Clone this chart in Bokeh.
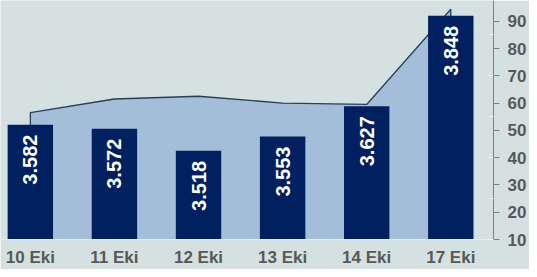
import math
from bokeh.plotting import figure
from bokeh.models import ColumnDataSource, LabelSet, Range1d, FixedTicker
from bokeh.core.properties import value
from bokeh.embed import file_html
from bokeh.resources import INLINE

categories = ["10 Eki", "11 Eki", "12 Eki", "13 Eki", "14 Eki", "17 Eki"]
bar_values = [52.1, 50.6, 42.5, 47.75, 58.85, 92.0]
bar_labels = ["3.582", "3.572", "3.518", "3.553", "3.627", "3.848"]
area_values = [56.5, 61.5, 62.5, 60.0, 59.5, 94.4]
y_ticks = [10, 20, 30, 40, 50, 60, 70, 80, 90]
y_minor_ticks = [10, 25, 40, 55, 70, 85]

BG = "#d5e0e0"
xs = list(range(len(categories)))

p = figure(width=529, height=269, output_backend="svg", toolbar_location=None,
           x_range=Range1d(-0.355, 5.508), y_range=Range1d(10, 97.6),
           y_axis_location="right", min_border_left=0, min_border_top=0,
           min_border_right=0, min_border_bottom=0)
p.background_fill_color = BG
p.border_fill_color = BG
p.outline_line_color = None
p.grid.visible = False

# area (behind bars)
p.varea(x=xs, y1=[y_ticks[0]] * len(xs), y2=area_values, fill_color="#a4bdd8")
line_x = [xs[0]] + xs + [xs[-1]]
line_y = [y_ticks[0]] + area_values + [y_ticks[0]]
p.line(line_x, line_y, line_color="#24405f", line_width=1.3)

src = ColumnDataSource(dict(x=xs, top=bar_values, lab=bar_labels))
p.vbar(x="x", top="top", bottom=y_ticks[0], width=0.54, source=src,
       fill_color="#002060", line_color=None)

labels = LabelSet(x="x", y="top", text="lab", source=src, angle=math.pi / 2,
                  y_offset=-10, text_align="right", text_baseline="middle",
                  text_color="white", text_font=value("Liberation Sans"),
                  text_font_style="bold", text_font_size="20px")
p.add_layout(labels)

xa = p.xaxis[0]
xa.ticker = FixedTicker(ticks=xs)
xa.major_label_overrides = {i: c for i, c in enumerate(categories)}
xa.axis_line_color = "#e6ecec"
xa.major_tick_line_color = None
xa.minor_tick_line_color = None
xa.major_tick_out = 0
xa.major_tick_in = 0
xa.major_label_standoff = 8
xa.major_label_text_font = "Liberation Sans"
xa.major_label_text_font_style = "bold"
xa.major_label_text_font_size = "17px"
xa.major_label_text_color = "#595959"

ya = p.yaxis[0]
ya.ticker = FixedTicker(ticks=y_ticks, minor_ticks=y_minor_ticks)
ya.axis_line_color = "#808080"
ya.major_tick_line_color = "#808080"
ya.major_tick_in = 0
ya.major_tick_out = 6
ya.minor_tick_line_color = "#eef2f2"
ya.minor_tick_in = 5
ya.minor_tick_out = 0
ya.major_label_standoff = 8
ya.major_label_text_font = "Liberation Sans"
ya.major_label_text_font_style = "bold"
ya.major_label_text_font_size = "17px"
ya.major_label_text_color = "#595959"

open("out.html", "w").write(file_html(p, INLINE))
